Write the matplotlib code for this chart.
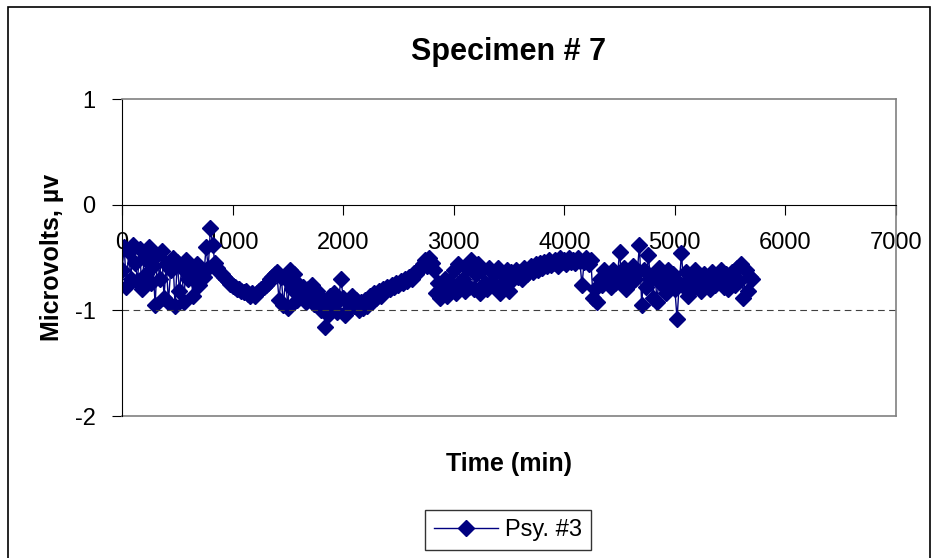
import matplotlib.pyplot as plt
from matplotlib.patches import Rectangle

plt.rcParams['font.family'] = ['Liberation Sans', 'DejaVu Sans']
plt.rcParams['axes.unicode_minus'] = False

# readings every 20 min
step = 20
volts = [
    -0.62, -0.40, -0.78, -0.45, -0.70, -0.38, -0.55, -0.72, -0.42, -0.80,
    -0.50, -0.66, -0.40, -0.74, -0.58, -0.95, -0.48, -0.70, -0.44, -0.88,
    -0.56, -0.92, -0.62, -0.50, -0.96, -0.54, -0.82, -0.60, -0.92, -0.52,
    -0.70, -0.58, -0.86, -0.64, -0.56, -0.76, -0.62, -0.68, -0.40, -0.60,
    -0.22, -0.38, -0.55, -0.60, -0.64, -0.66, -0.68, -0.70, -0.72, -0.75,
    -0.77, -0.78, -0.80, -0.80, -0.82, -0.83, -0.82, -0.85, -0.86, -0.84,
    -0.86, -0.84, -0.82, -0.80, -0.78, -0.76, -0.74, -0.70, -0.68, -0.66,
    -0.64, -0.90, -0.68, -0.95, -0.70, -0.98, -0.62, -0.80, -0.66, -0.90,
    -0.76, -0.84, -0.78, -0.92, -0.80, -0.86, -0.76, -0.94, -0.82, -0.88,
    -1.00, -0.90, -1.16, -1.04, -0.86, -0.96, -0.84, -1.02, -0.90, -0.70,
    -0.88, -1.04, -0.92, -0.98, -0.86, -0.96, -0.90, -1.00, -0.92, -0.98,
    -0.90, -0.96, -0.86, -0.92, -0.84, -0.88, -0.82, -0.86, -0.80, -0.82,
    -0.78, -0.80, -0.76, -0.78, -0.74, -0.76, -0.72, -0.74, -0.70, -0.72,
    -0.68, -0.70, -0.65, -0.66, -0.62, -0.60, -0.56, -0.52, -0.58, -0.50,
    -0.55, -0.62, -0.84, -0.74, -0.88, -0.78, -0.70, -0.86, -0.72, -0.80,
    -0.62, -0.84, -0.56, -0.76, -0.70, -0.82, -0.60, -0.78, -0.52, -0.80,
    -0.66, -0.56, -0.84, -0.62, -0.74, -0.80, -0.60, -0.74, -0.66, -0.78,
    -0.60, -0.84, -0.66, -0.72, -0.62, -0.82, -0.64, -0.70, -0.62, -0.68,
    -0.64, -0.70, -0.60, -0.66, -0.62, -0.58, -0.64, -0.56, -0.62, -0.55,
    -0.60, -0.54, -0.58, -0.52, -0.57, -0.55, -0.52, -0.58, -0.50, -0.54,
    -0.52, -0.56, -0.50, -0.54, -0.52, -0.55, -0.50, -0.53, -0.76, -0.54,
    -0.50, -0.56, -0.52, -0.88, -0.80, -0.92, -0.70, -0.76, -0.62, -0.72,
    -0.66, -0.78, -0.62, -0.74, -0.68, -0.45, -0.72, -0.60, -0.80, -0.66,
    -0.74, -0.58, -0.70, -0.64, -0.38, -0.95, -0.62, -0.78, -0.48, -0.70,
    -0.88, -0.66, -0.92, -0.60, -0.76, -0.68, -0.84, -0.62, -0.78, -0.66,
    -0.80, -1.08, -0.74, -0.46, -0.78, -0.64, -0.86, -0.70, -0.80, -0.62,
    -0.76, -0.68, -0.82, -0.66, -0.74, -0.70, -0.80, -0.64, -0.76, -0.68,
    -0.72, -0.62, -0.78, -0.66, -0.80, -0.70, -0.64, -0.76, -0.60, -0.72,
    -0.56, -0.88, -0.62, -0.82, -0.68, -0.70,
]
times = [i * step for i in range(len(volts))]

xticks = [0, 1000, 2000, 3000, 4000, 5000, 6000, 7000]
yticks = [-2, -1, 0, 1]

fig = plt.figure(figsize=(9.37, 5.58), dpi=100)
W, H = 937, 558

# outer chart border
fig.patches.append(Rectangle((8 / W, -0.01), 922 / W, 1 - 7 / H + 0.01,
                             transform=fig.transFigure, fill=False,
                             edgecolor='black', linewidth=1.2))

ax = fig.add_axes([122 / W, 1 - 416 / H, (896 - 122) / W, (416 - 99) / H])
ax.plot(times, volts, color='#000080', marker='D', markersize=8,
        linewidth=1, label='Psy. #3')

ax.set_xlim(0, 7000)
ax.set_ylim(-2, 1)
ax.set_xticks(xticks)
ax.set_yticks(yticks)

# x axis runs through zero, grey frame around the plot area
ax.spines['bottom'].set_position(('data', 0))
ax.spines['bottom'].set_color('black')
ax.spines['left'].set_color('black')
for s in ('top', 'right'):
    ax.spines[s].set_color('#808080')
    ax.spines[s].set_linewidth(1.2)
ax.axhline(-2, color='#808080', linewidth=1.2, clip_on=False)
ax.axhline(-1, color='#404040', linewidth=0.8, linestyle=(0, (6, 4)))

ax.tick_params(axis='x', direction='out', length=7, pad=13, labelsize=17)
ax.tick_params(axis='y', direction='out', length=7, pad=12, labelsize=17)

ax.set_title('Specimen # 7', fontsize=22, fontweight='bold', pad=28)
ax.set_xlabel('Time (min)', fontsize=18, fontweight='bold')
ax.xaxis.set_label_coords(0.5, -0.115)
ax.set_ylabel('Microvolts, \u00b5v', fontsize=18, fontweight='bold')
ax.yaxis.set_label_coords(-0.075, 0.5)

leg = fig.legend(loc='center', bbox_to_anchor=(508 / W, 1 - 530 / H),
                 fontsize=17, frameon=True, fancybox=False, handlelength=2.7,
                 borderpad=0.4, handletextpad=0.3)
leg.get_frame().set_edgecolor('black')
leg.get_frame().set_linewidth(1)

fig.savefig('out.png', dpi=100)
